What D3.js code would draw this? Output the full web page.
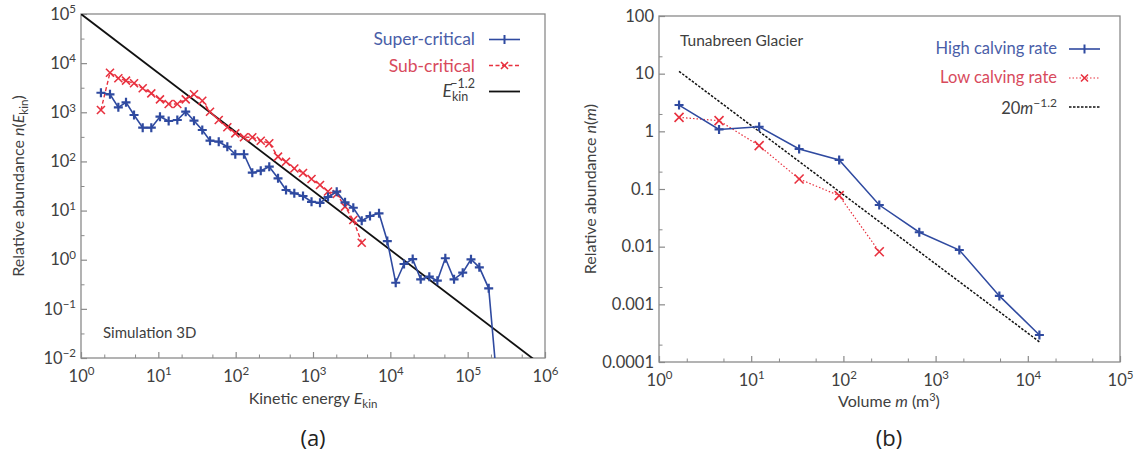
<!DOCTYPE html>
<html><head><meta charset="utf-8">
<script src="https://cdn.jsdelivr.net/npm/d3@7/dist/d3.min.js"></script>
<style>
html,body{margin:0;padding:0;background:#fff;}
svg{display:block;font-family:Lato,"Open Sans",sans-serif;}
</style></head>
<body>
<svg id="chart" width="1134" height="457"></svg>
<script>
// ---------- Panel (a) data ----------
const superE = [1.81,2.37,3.04,3.82,4.85,6.28,8.11,10.5,13.6,17.6,22.6,28.9,37.0,46.6,60.4,78.0,98.9,128,164,211,272,353,448,573,743,957,1232,1564,2027,2596,3320,4266,5460,7140,9140,11740,15030,19460,24700,31920,40540,51420,66680,86300,110400,141500,187100,239900];
const superN = [2500,2320,1262,1596,881,486,486,813,665,697,1028,674,436,264,252,199,140,140,59.0,64.8,78.1,45.4,26.2,22.4,19.8,15.1,14.4,18.9,24.2,14.7,11.4,6.22,7.75,8.79,2.40,0.340,0.818,1.03,0.399,0.451,0.374,1.07,0.399,0.544,1.02,0.700,0.262,0.0031];
const subE = [1.81,2.37,3.04,3.82,4.85,6.28,8.11,10.5,13.6,17.6,22.6,28.9,37.0,46.6,60.4,78.0,98.9,128,164,211,272,353,448,573,743,957,1232,1564,2027,2596,3320,4266];
const subN = [1112,6380,4920,4400,3890,3080,2430,1836,1475,1475,1836,2322,1720,1028,697,495,373,310,310,264,234,125,98.7,71.7,58.1,43.9,33.1,24.4,21.7,12.0,6.43,2.22];
const fitAE = [1,1e6];            // E_kin^-1.2 reference line endpoints
const fitAScale = 1e5;
const fitAExp = -1.2;

const aXTicks = [1,10,100,1e3,1e4,1e5,1e6];
const aXExp = ["0","1","2","3","4","5","6"];
const aYTicks = [1e-2,1e-1,1,10,100,1e3,1e4,1e5];
const aYExp = ["\u22122","\u22121","0","1","2","3","4","5"];

// ---------- Panel (b) data ----------
const highM = [1.65,4.48,12.2,33.1,90,245,665,1808,4915,13360];
const highN = [2.86,1.08,1.20,0.494,0.319,0.0528,0.0178,0.00875,0.0014,0.000294];
const lowM = [1.65,4.48,12.2,33.1,90,245];
const lowN = [1.75,1.53,0.564,0.149,0.0766,0.00818];
const fitBScale = 20;
const fitBExp = -1.2;

const bXTicks = [1,10,100,1e3,1e4,1e5];
const bXExp = ["0","1","2","3","4","5"];
const bYTicks = [1e-4,1e-3,1e-2,0.1,1,10,100];
const bYLabels = ["0.0001","0.001","0.01","0.1","1","10","100"];

// ---------- drawing ----------
const svg = d3.select("#chart");
svg.append("rect").attr("width",1134).attr("height",457).attr("fill","#fff");

const BLUE = "#2f4aa0", RED = "#e8313f", AXIS = "#8a8a8a", TXT = "#404040";
const BLUE_T = "#4a5ea8", RED_T = "#d84a5c";
const TICK_FS = 16.5, SUP_FS = 11.5;

function minors(decades, factors){
  const out=[]; decades.forEach(d=>factors.forEach(f=>out.push(d*f))); return out;
}

function panel(cfg){
  const g = svg.append("g");
  const x = d3.scaleLog().domain(cfg.xd).range([cfg.l,cfg.r]);
  const y = d3.scaleLog().domain(cfg.yd).range([cfg.b,cfg.t]);
  const id = "clip"+cfg.name;
  svg.append("clipPath").attr("id",id).append("rect")
    .attr("x",cfg.l).attr("y",cfg.t).attr("width",cfg.r-cfg.l).attr("height",cfg.b-cfg.t);

  g.append("rect").attr("x",cfg.l).attr("y",cfg.t).attr("width",cfg.r-cfg.l).attr("height",cfg.b-cfg.t)
    .attr("fill","none").attr("stroke",AXIS).attr("stroke-width",1.3);

  const xMin = minors(cfg.xTicks.slice(0,-1), cfg.xMinorF);
  const yMin = minors(cfg.yTicks.slice(0,-1), cfg.yMinorF);
  g.append("g").attr("transform",`translate(0,${cfg.b})`)
    .call(d3.axisBottom(x).tickValues(xMin).tickSize(-3.5).tickFormat(()=>""))
    .call(s=>{s.select(".domain").remove(); s.selectAll("line").attr("stroke",AXIS).attr("stroke-width",1);});
  g.append("g").attr("transform",`translate(${cfg.l},0)`)
    .call(d3.axisLeft(y).tickValues(yMin).tickSize(-3.5).tickFormat(()=>""))
    .call(s=>{s.select(".domain").remove(); s.selectAll("line").attr("stroke",AXIS).attr("stroke-width",1);});

  const xa = g.append("g").attr("transform",`translate(0,${cfg.b})`)
    .call(d3.axisBottom(x).tickValues(cfg.xTicks).tickSize(-6).tickPadding(12).tickFormat(()=>""));
  xa.select(".domain").remove();
  xa.selectAll("line").attr("stroke",AXIS).attr("stroke-width",1.2);
  xa.selectAll("text").each(function(d,i){
    const t = d3.select(this).attr("fill",TXT).attr("font-size",TICK_FS).attr("font-family","Lato,sans-serif");
    t.append("tspan").text("10");
    t.append("tspan").attr("font-size",SUP_FS).attr("dy",-6.5).text(cfg.xExp[i]);
  });
  const ya = g.append("g").attr("transform",`translate(${cfg.l},0)`)
    .call(d3.axisLeft(y).tickValues(cfg.yTicks).tickSize(-6).tickPadding(5).tickFormat(()=>""));
  ya.select(".domain").remove();
  ya.selectAll("line").attr("stroke",AXIS).attr("stroke-width",1.2);
  ya.selectAll("text").each(function(d,i){
    const t = d3.select(this).attr("fill",TXT).attr("font-size",TICK_FS).attr("font-family","Lato,sans-serif");
    if(cfg.yLabels){ t.text(cfg.yLabels[i]); }
    else{
      t.append("tspan").text("10");
      t.append("tspan").attr("font-size",SUP_FS).attr("dy",-6.5).text(cfg.yExp[i]);
    }
  });
  return {g,x,y,clip:`url(#${id})`};
}

function plus(g,pts,x,y,color,clip){
  const s=4.5;
  const gg=g.append("g").attr("clip-path",clip);
  pts.forEach(p=>{
    const cx=x(p[0]), cy=y(p[1]);
    gg.append("path").attr("d",`M${cx-s},${cy}H${cx+s}M${cx},${cy-s}V${cy+s}`)
      .attr("stroke",color).attr("stroke-width",2.2).attr("fill","none");
  });
}
function cross(g,pts,x,y,color,clip,s=4){
  const gg=g.append("g").attr("clip-path",clip);
  pts.forEach(p=>{
    const cx=x(p[0]), cy=y(p[1]);
    gg.append("path").attr("d",`M${cx-s},${cy-s}L${cx+s},${cy+s}M${cx-s},${cy+s}L${cx+s},${cy-s}`)
      .attr("stroke",color).attr("stroke-width",1.6).attr("fill","none");
  });
}

// ----- Panel A -----
const A = panel({name:"A", l:81, r:545, t:14, b:358, xd:[1,1e6], yd:[1e-2,1e5],
  xTicks:aXTicks, xExp:aXExp, yTicks:aYTicks, yExp:aYExp, xMinorF:[2,5], yMinorF:[3.16]});
{
  const line = d3.line().x(d=>A.x(d[0])).y(d=>A.y(d[1]));
  const fit = fitAE.map(e=>[e, fitAScale*Math.pow(e,fitAExp)]);
  A.g.append("path").attr("clip-path",A.clip).attr("d",line(fit)).attr("stroke","#111").attr("stroke-width",1.8).attr("fill","none");
  const sub = subE.map((e,i)=>[e,subN[i]]);
  A.g.append("path").attr("clip-path",A.clip).attr("d",line(sub)).attr("stroke",RED).attr("stroke-width",1.4)
    .attr("stroke-dasharray","4,2.5").attr("fill","none");
  cross(A.g,sub,A.x,A.y,RED,A.clip);
  const sup = superE.map((e,i)=>[e,superN[i]]);
  A.g.append("path").attr("clip-path",A.clip).attr("d",line(sup)).attr("stroke",BLUE).attr("stroke-width",1.6).attr("fill","none");
  plus(A.g,sup.slice(0,-1),A.x,A.y,BLUE,A.clip);

  const lg = A.g.append("g").attr("font-size",17.5);
  lg.append("text").attr("x",475).attr("y",45).attr("text-anchor","end").attr("fill",BLUE_T).text("Super-critical");
  lg.append("text").attr("x",475).attr("y",71.5).attr("text-anchor","end").attr("fill",RED_T).text("Sub-critical");
  const t3 = lg.append("text").attr("x",475).attr("y",97).attr("text-anchor","end").attr("fill",TXT);
  t3.append("tspan").attr("font-style","italic").text("E");
  t3.append("tspan").attr("font-size",12.5).attr("dy",4).text("kin");
  t3.append("tspan").attr("font-size",12.5).attr("dx",-18).attr("dy",-13).text("\u22121.2");
  lg.append("path").attr("d","M489,39.5H520").attr("stroke",BLUE).attr("stroke-width",1.6);
  lg.append("path").attr("d","M504.5,35V44").attr("stroke",BLUE).attr("stroke-width",2);
  lg.append("path").attr("d","M489,65.5H520").attr("stroke",RED).attr("stroke-width",1.4).attr("stroke-dasharray","4,2.5");
  lg.append("path").attr("d","M501,62L508,69M501,69L508,62").attr("stroke",RED).attr("stroke-width",1.6);
  lg.append("path").attr("d","M489,91.5H520").attr("stroke","#111").attr("stroke-width",1.8);

  A.g.append("text").attr("x",103).attr("y",338).attr("font-size",15).attr("fill",TXT).text("Simulation 3D");

  const xt = A.g.append("text").attr("x",313).attr("y",404).attr("text-anchor","middle").attr("font-size",16).attr("fill",TXT);
  xt.append("tspan").text("Kinetic energy ");
  xt.append("tspan").attr("font-style","italic").text("E");
  xt.append("tspan").attr("font-size",11.5).attr("dy",4).text("kin");

  const yt = A.g.append("text").attr("transform","translate(24,186) rotate(-90)").attr("text-anchor","middle").attr("font-size",16).attr("fill",TXT);
  yt.append("tspan").text("Relative abundance ");
  yt.append("tspan").attr("font-style","italic").text("n");
  yt.append("tspan").text("(");
  yt.append("tspan").attr("font-style","italic").text("E");
  yt.append("tspan").attr("font-size",11.5).attr("dy",4).text("kin");
  yt.append("tspan").attr("dy",-4).text(")");

  A.g.append("text").attr("x",313).attr("y",446).attr("text-anchor","middle").attr("font-size",22).attr("fill","#222")
    .attr("font-family","'Open Sans',sans-serif").text("(a)");
}

// ----- Panel B -----
const B = panel({name:"B", l:659, r:1120, t:16, b:362, xd:[1,1e5], yd:[1e-4,100],
  xTicks:bXTicks, xExp:bXExp, yTicks:bYTicks, yLabels:bYLabels, xMinorF:[2,5], yMinorF:[2]});
{
  const line = d3.line().x(d=>B.x(d[0])).y(d=>B.y(d[1]));
  const fit = highM.map(m=>[m, fitBScale*Math.pow(m,fitBExp)]);
  B.g.append("path").attr("clip-path",B.clip).attr("d",line(fit)).attr("stroke","#111").attr("stroke-width",1.5)
    .attr("stroke-dasharray","2.5,1.5").attr("fill","none");
  const low = lowM.map((m,i)=>[m,lowN[i]]);
  B.g.append("path").attr("clip-path",B.clip).attr("d",line(low)).attr("stroke",RED).attr("stroke-width",1.2)
    .attr("stroke-dasharray","1.5,2").attr("fill","none");
  cross(B.g,low,B.x,B.y,RED,B.clip,4.5);
  const high = highM.map((m,i)=>[m,highN[i]]);
  B.g.append("path").attr("clip-path",B.clip).attr("d",line(high)).attr("stroke",BLUE).attr("stroke-width",1.5).attr("fill","none");
  plus(B.g,high,B.x,B.y,BLUE,B.clip);

  const lg = B.g.append("g").attr("font-size",16.5);
  lg.append("text").attr("x",1057).attr("y",54).attr("text-anchor","end").attr("fill",BLUE_T).text("High calving rate");
  lg.append("text").attr("x",1057).attr("y",83).attr("text-anchor","end").attr("fill",RED_T).text("Low calving rate");
  const t3 = lg.append("text").attr("x",1057).attr("y",114).attr("text-anchor","end").attr("fill",TXT);
  t3.append("tspan").text("20");
  t3.append("tspan").attr("font-style","italic").text("m");
  t3.append("tspan").attr("font-size",12).attr("dy",-7).text("\u22121.2");
  lg.append("path").attr("d","M1069,49H1100").attr("stroke",BLUE).attr("stroke-width",1.6);
  lg.append("path").attr("d","M1084.5,44.5V53.5").attr("stroke",BLUE).attr("stroke-width",2);
  lg.append("path").attr("d","M1069,78H1100").attr("stroke",RED).attr("stroke-width",1.2).attr("stroke-dasharray","1.5,2");
  lg.append("path").attr("d","M1081,74.5L1088,81.5M1081,81.5L1088,74.5").attr("stroke",RED).attr("stroke-width",1.6);
  lg.append("path").attr("d","M1069,107H1100").attr("stroke","#111").attr("stroke-width",1.5).attr("stroke-dasharray","2.5,1.5");

  B.g.append("text").attr("x",680).attr("y",46).attr("font-size",15.5).attr("fill",TXT).text("Tunabreen Glacier");

  const xt = B.g.append("text").attr("x",889).attr("y",407).attr("text-anchor","middle").attr("font-size",16).attr("fill",TXT);
  xt.append("tspan").text("Volume ");
  xt.append("tspan").attr("font-style","italic").text("m");
  xt.append("tspan").text(" (m");
  xt.append("tspan").attr("font-size",11).attr("dy",-6).text("3");
  xt.append("tspan").attr("dy",6).text(")");

  const yt = B.g.append("text").attr("transform","translate(596,189) rotate(-90)").attr("text-anchor","middle").attr("font-size",16).attr("fill",TXT);
  yt.append("tspan").text("Relative abundance ");
  yt.append("tspan").attr("font-style","italic").text("n");
  yt.append("tspan").text("(");
  yt.append("tspan").attr("font-style","italic").text("m");
  yt.append("tspan").text(")");

  B.g.append("text").attr("x",889).attr("y",446).attr("text-anchor","middle").attr("font-size",22).attr("fill","#222")
    .attr("font-family","'Open Sans',sans-serif").text("(b)");
}
</script>
</body></html>
